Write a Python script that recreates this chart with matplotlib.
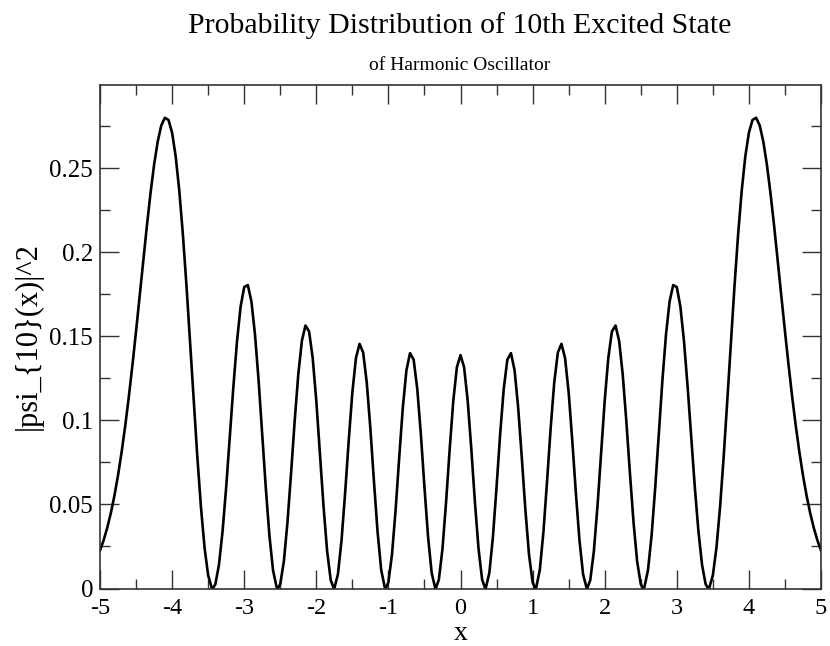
import matplotlib
matplotlib.use("Agg")
import matplotlib.pyplot as plt
from matplotlib.ticker import MultipleLocator

# x >= 0 half of the curve (the curve is symmetric about x = 0)
x_half = [0.00, 0.05, 0.10, 0.15, 0.20, 0.25, 0.30, 0.343, 0.35, 0.40, 0.45,
          0.50, 0.55, 0.60, 0.65, 0.70, 0.75, 0.80, 0.85, 0.90, 0.95,
          1.00, 1.037, 1.05, 1.10, 1.15, 1.20, 1.25, 1.30, 1.35, 1.40, 1.45,
          1.50, 1.55, 1.60, 1.65, 1.70, 1.75, 1.757, 1.80, 1.85, 1.90, 1.95,
          2.00, 2.05, 2.10, 2.15, 2.20, 2.25, 2.30, 2.35, 2.40, 2.45,
          2.50, 2.533, 2.55, 2.60, 2.65, 2.70, 2.75, 2.80, 2.85, 2.90, 2.95,
          3.00, 3.05, 3.10, 3.15, 3.20, 3.25, 3.30, 3.35, 3.40, 3.436, 3.45,
          3.50, 3.55, 3.60, 3.65, 3.70, 3.75, 3.80, 3.85, 3.90, 3.95,
          4.00, 4.05, 4.10, 4.15, 4.20, 4.25, 4.30, 4.35, 4.40, 4.45,
          4.50, 4.55, 4.60, 4.65, 4.70, 4.75, 4.80, 4.85, 4.90, 4.95, 5.00]
psi2_half = [0.13884, 0.13168, 0.11167, 0.08295, 0.05144, 0.02365, 0.00529, 0.0, 0.00015, 0.00928, 0.03081,
             0.06035, 0.09187, 0.11897, 0.13618, 0.14005, 0.12984, 0.10764, 0.07797, 0.04677, 0.02029,
             0.00378, 0.0, 0.00051, 0.01111, 0.03356, 0.06348, 0.09513, 0.12250, 0.14041, 0.14559, 0.13715,
             0.11671, 0.08820, 0.05694, 0.02865, 0.00850, 0.00012, 0.0, 0.00501, 0.02230, 0.04902, 0.08059,
             0.11170, 0.13718, 0.15293, 0.15648, 0.14743, 0.12735, 0.09960, 0.06863, 0.03930, 0.01613,
             0.00260, 0.0, 0.00073, 0.01079, 0.03137, 0.05964, 0.09179, 0.12361, 0.15106, 0.17079, 0.18054,
             0.17936, 0.16764, 0.14702, 0.12007, 0.09001, 0.06026, 0.03405, 0.01414, 0.00254, 0.0, 0.00037,
             0.00785, 0.02433, 0.04844, 0.07828, 0.11165, 0.14622, 0.17981, 0.21044, 0.23656, 0.25703,
             0.27119, 0.27882, 0.28011, 0.27555, 0.26590, 0.25205, 0.23499, 0.21569, 0.19506, 0.17397,
             0.15310, 0.13302, 0.11417, 0.09684, 0.08120, 0.06734, 0.05526, 0.04487, 0.03606, 0.02870, 0.02262]

x_vals = [-v for v in x_half[:0:-1]] + x_half
y_vals = psi2_half[:0:-1] + psi2_half

x_ticks = [-5, -4, -3, -2, -1, 0, 1, 2, 3, 4, 5]
y_ticks = [0, 0.05, 0.1, 0.15, 0.2, 0.25]
y_tick_labels = ["0", "0.05", "0.1", "0.15", "0.2", "0.25"]

title = "Probability Distribution of 10th Excited State"
subtitle = "of Harmonic Oscillator"
xlabel = "x"
ylabel = "|psi_{10}(x)|^2"

plt.rcParams['font.family'] = ['Liberation Serif', 'DejaVu Serif']

W, H = 830, 646
fig = plt.figure(figsize=(8.3, 6.46), dpi=100)
ax_left, ax_right, ax_top, ax_bottom = 100, 821, 84.5, 588.5
ax = fig.add_axes([ax_left / W, 1 - ax_bottom / H, (ax_right - ax_left) / W, (ax_bottom - ax_top) / H])

ax.plot(x_vals, y_vals, color="black", linewidth=1.9, solid_joinstyle="round")

ax.set_xlim(-5, 5)
ax.set_ylim(0, 0.2999)
ax.set_xticks(x_ticks)
ax.set_xticklabels([str(t) for t in x_ticks])
ax.set_yticks(y_ticks)
ax.set_yticklabels(y_tick_labels)
ax.xaxis.set_minor_locator(MultipleLocator(0.5))
ax.yaxis.set_minor_locator(MultipleLocator(0.025))

ax.tick_params(which="both", direction="in", top=True, right=True, width=1.0, colors="#333333",
               labelcolor="black")
ax.tick_params(which="major", length=14, labelsize=18)
ax.tick_params(axis="x", which="major", labelsize=17.5, pad=7)
ax.tick_params(axis="y", which="major", pad=5)
ax.tick_params(which="minor", length=7)
for s in ax.spines.values():
    s.set_linewidth(1.2)
    s.set_color("#333333")

ax.set_xlabel(xlabel, fontsize=20)
ax.xaxis.set_label_coords(0.5, (ax_bottom - 621) / (ax_bottom - ax_top))
ax.set_ylabel(ylabel, fontsize=22)
ax.yaxis.set_label_coords((43 - ax_left) / (ax_right - ax_left), 0.5)

fig.text(460 / W, 1 - 33 / H, title, ha="center", va="baseline", fontsize=21.5)
fig.text(460 / W, 1 - 70 / H, subtitle, ha="center", va="baseline", fontsize=14)

fig.savefig("out.png", dpi=100)
